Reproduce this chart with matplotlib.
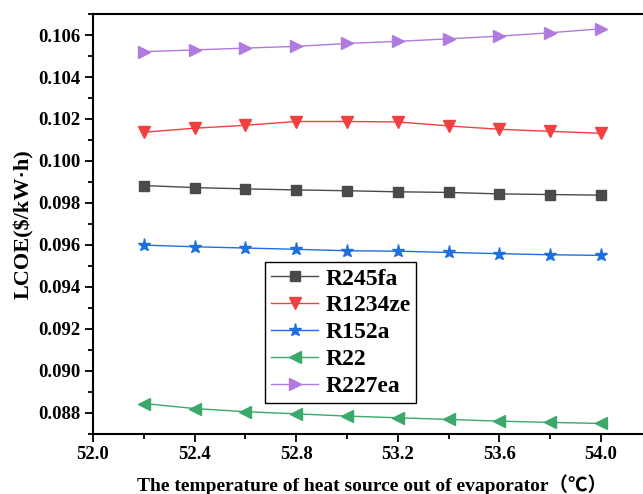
import matplotlib.pyplot as plt
from matplotlib.ticker import MultipleLocator

plt.rcParams['font.family'] = ['Liberation Serif', 'Noto Sans CJK SC']
plt.rcParams['font.weight'] = 'bold'

# outlet temperature of heat source (degC)
temp = [52.2, 52.4, 52.6, 52.8, 53.0, 53.2, 53.4, 53.6, 53.8, 54.0]

# LCOE of each working fluid ($/kW.h)
r245fa = [0.09883, 0.09873, 0.09867, 0.09862, 0.09858, 0.09853, 0.09850, 0.09843, 0.09840, 0.09837]
r1234ze = [0.10137, 0.10156, 0.10170, 0.10188, 0.10188, 0.10186, 0.10167, 0.10151, 0.10141, 0.10132]
r152a = [0.09599, 0.09591, 0.09585, 0.09579, 0.09572, 0.09570, 0.09564, 0.09558, 0.09553, 0.09550]
r22 = [0.08844, 0.08820, 0.08805, 0.08795, 0.08784, 0.08776, 0.08768, 0.08760, 0.08754, 0.08749]
r227ea = [0.10521, 0.10529, 0.10538, 0.10546, 0.10560, 0.10570, 0.10582, 0.10595, 0.10611, 0.10630]

fig = plt.figure(figsize=(6.43, 4.94), dpi=100)
ax = fig.add_axes([0.1446, 0.122, 0.869, 0.8495])

ax.plot(temp, r245fa, color='#4a4a4a', marker='s', ms=7, lw=1, label='R245fa')
ax.plot(temp, r1234ze, color='#f04040', marker='v', ms=9, lw=1, label='R1234ze')
ax.plot(temp, r152a, color='#1e6fe0', marker='*', ms=9.5, lw=1, label='R152a')
ax.plot(temp, r22, color='#3aa96a', marker='<', ms=9, lw=1, label='R22')
ax.plot(temp, r227ea, color='#b07ae0', marker='>', ms=9, lw=1, label='R227ea')

ax.set_xlim(52.0, 54.2)
ax.set_ylim(0.087, 0.107)
ax.xaxis.set_major_locator(MultipleLocator(0.4))
ax.xaxis.set_minor_locator(MultipleLocator(0.2))
ax.yaxis.set_major_locator(MultipleLocator(0.002))
ax.yaxis.set_minor_locator(MultipleLocator(0.001))
ax.xaxis.set_major_formatter(plt.FormatStrFormatter('%.1f'))
ax.yaxis.set_major_formatter(plt.FormatStrFormatter('%.3f'))
ax.tick_params(which='major', direction='out', length=6, width=1.3, labelsize=13.5, pad=3)
ax.tick_params(which='minor', direction='out', length=3.5, width=1.3)
for s in ax.spines.values():
    s.set_linewidth(1.5)
ax.spines['right'].set_visible(False)

ax.set_xlabel('The temperature of heat source out of evaporator（℃）', fontsize=14, fontweight='bold', labelpad=8)
ax.set_ylabel('LCOE($/kW·h)', fontsize=16, fontweight='bold', labelpad=3)

leg = ax.legend(loc='upper left', bbox_to_anchor=(0.308, 0.409), borderaxespad=0,
                fancybox=False, edgecolor='black', framealpha=1, numpoints=1,
                handlelength=2.0, fontsize=17, borderpad=0.25, labelspacing=0.23,
                handletextpad=0.3)
leg.get_frame().set_linewidth(1)

fig.savefig('out.png', dpi=100)
